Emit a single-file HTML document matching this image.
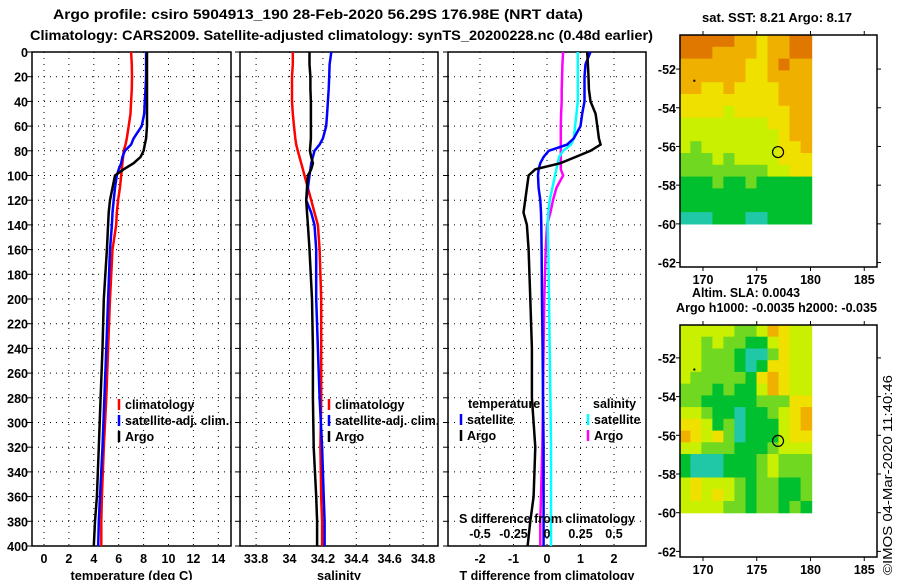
<!DOCTYPE html>
<html><head><meta charset="utf-8"><style>
body{margin:0;background:#fff;width:900px;height:580px;overflow:hidden}
svg{font-family:"Liberation Sans",sans-serif;font-weight:bold}
</style></head><body>
<svg id="s" width="900" height="580" xmlns="http://www.w3.org/2000/svg">
<text x="53" y="19" font-size="14" textLength="530" lengthAdjust="spacingAndGlyphs">Argo profile: csiro 5904913_190 28-Feb-2020 56.29S 176.98E (NRT data)</text>
<text x="30" y="40" font-size="14" textLength="623" lengthAdjust="spacingAndGlyphs">Climatology: CARS2009. Satellite-adjusted climatology: synTS_20200228.nc (0.48d earlier)</text>
<text x="702" y="22" font-size="12.5" textLength="150" lengthAdjust="spacingAndGlyphs">sat. SST: 8.21 Argo: 8.17</text>
<text x="692" y="297" font-size="12.5" textLength="108" lengthAdjust="spacingAndGlyphs">Altim. SLA: 0.0043</text>
<text x="676" y="312" font-size="12.5" textLength="201" lengthAdjust="spacingAndGlyphs">Argo h1000: -0.0035 h2000: -0.035</text>
<text transform="translate(892,575) rotate(-90)" font-size="12.5" font-weight="normal" textLength="200" lengthAdjust="spacingAndGlyphs">©IMOS 04-Mar-2020 11:40:46</text>
</svg>
<script>
const depths=[0,10,20,30,40,50,60,70,75,80,85,90,95,100,110,120,130,140,160,200,240,280,320,360,380,400];
const tClim=[7.0,7.05,7.07,7.05,7.0,6.95,6.8,6.65,6.55,6.4,6.35,6.3,6.25,6.2,6.1,5.95,5.85,5.8,5.5,5.3,5.15,5.0,4.8,4.65,4.6,4.6];
const tSat=[8.2,8.2,8.2,8.15,8.1,8.05,7.85,7.2,7.0,6.5,6.3,6.2,6.0,5.85,5.7,5.6,5.5,5.45,5.3,5.15,5.0,4.85,4.7,4.5,4.4,4.35];
const tArgo=[8.27,8.27,8.27,8.27,8.27,8.27,8.27,8.2,8.1,8.0,7.75,7.2,6.4,5.7,5.5,5.3,5.2,5.15,5.05,4.8,4.7,4.55,4.4,4.25,4.1,4.0];
const sClim=[34.02,34.02,34.015,34.015,34.015,34.02,34.027,34.035,34.04,34.05,34.06,34.07,34.08,34.09,34.11,34.13,34.15,34.17,34.18,34.19,34.19,34.19,34.185,34.19,34.195,34.195];
const sSat=[34.25,34.24,34.238,34.235,34.23,34.225,34.22,34.2,34.18,34.15,34.14,34.13,34.125,34.12,34.11,34.1,34.13,34.15,34.16,34.16,34.17,34.18,34.195,34.205,34.21,34.21];
const sArgo=[34.12,34.12,34.125,34.125,34.128,34.128,34.128,34.128,34.125,34.122,34.13,34.14,34.13,34.11,34.105,34.1,34.105,34.11,34.12,34.135,34.14,34.14,34.145,34.16,34.165,34.165];
const dSArgo=[0.12,0.115,0.113,0.11,0.11,0.105,0.103,0.103,0.103,0.103,0.103,0.103,0.103,0.12,0.07,0.045,0.025,0.0,-0.01,-0.02,-0.025,-0.03,-0.035,-0.045,-0.05,-0.05];
const dSSat=[0.23,0.23,0.23,0.23,0.23,0.22,0.21,0.2,0.18,0.12,0.09,0.08,0.07,0.06,0.04,0.02,0.01,0.005,0.01,0.015,0.02,0.025,0.03,0.03,0.03,0.03];
const dTSat=[1.3,1.15,1.12,1.12,1.12,1.05,1.0,0.8,0.6,0.05,-0.1,-0.2,-0.25,-0.27,-0.25,-0.2,-0.18,-0.17,-0.16,-0.15,-0.13,-0.12,-0.1,-0.1,-0.1,-0.1];
const dTArgo=[1.2,1.22,1.24,1.25,1.3,1.45,1.5,1.55,1.6,1.3,0.85,0.4,-0.35,-0.55,-0.6,-0.65,-0.7,-0.6,-0.55,-0.5,-0.45,-0.45,-0.35,-0.4,-0.5,-0.58];
const tTicks=[0,2,4,6,8,10,12,14];
const sTicks=[33.8,34,34.2,34.4,34.6,34.8];
const dTTicks=[-2,-1,0,1,2];
const dSTicks=[-0.5,-0.25,0,0.25,0.5];
const dSLabels=["-0.5","-0.25","0","0.25","0.5"];
const depthTicks=[0,20,40,60,80,100,120,140,160,180,200,220,240,260,280,300,320,340,360,380,400];
const lonTicks=[170,175,180,185];
const latTicks=[-52,-54,-56,-58,-60,-62];
const palette=["#20c8a8","#00c030","#70d820","#c8f000","#f0e000","#f0b000","#e07800"];
const sstGrid=[
[6,6,6,6,6,5,5,4,5,5,6,6],[6,6,6,5,5,5,5,4,5,5,6,6],[5,5,5,5,5,5,4,4,5,6,5,5],[5,5,5,5,5,5,4,4,5,5,5,5],
[5,5,4,4,5,4,4,4,4,5,5,5],[4,4,4,4,4,4,4,4,4,5,5,5],[4,4,4,4,3,4,4,4,4,4,5,5],[3,3,3,3,3,3,3,3,4,4,5,5],
[3,3,3,3,3,3,3,3,3,4,5,5],[3,2,3,3,3,3,3,3,3,4,4,5],[2,2,2,3,2,3,3,3,3,4,4,4],[2,2,2,2,2,2,2,2,3,3,4,4],
[1,1,1,2,1,1,2,1,1,1,1,1],[1,1,1,1,1,1,1,1,1,1,1,1],[1,1,1,1,1,1,1,1,1,1,1,1],[0,0,0,1,1,1,0,0,1,1,1,1]];
const slaGrid=[
[3,3,3,3,3,2,2,3,5,4,3,3],[3,3,2,3,2,2,1,1,3,4,3,3],[3,3,2,2,2,1,0,0,2,4,3,3],[3,3,2,2,2,1,0,1,4,4,3,3],
[3,2,2,2,2,2,1,4,5,4,3,3],[2,2,2,1,2,1,1,3,5,4,3,3],[2,2,1,1,1,1,1,2,2,2,4,4],[3,3,2,1,1,0,1,1,2,3,4,5],
[4,4,3,1,2,0,1,1,1,3,4,5],[5,4,3,4,2,0,1,1,1,3,4,4],[3,3,2,2,2,1,1,1,2,3,3,3],[1,0,0,0,1,1,1,2,3,2,2,2],
[1,0,0,0,1,1,1,2,3,2,2,2],[3,4,3,3,3,2,1,2,2,1,1,2],[3,4,3,4,3,2,1,2,2,1,1,2],[3,3,3,3,2,2,1,2,2,1,2,1]];
const argoLon=176.98, argoLat=-56.29;

const svg=document.getElementById('s');
const NS='http://www.w3.org/2000/svg';
function el(t,a,p){const e=document.createElementNS(NS,t);for(const k in a)e.setAttribute(k,a[k]);(p||svg).appendChild(e);return e;}
const Y=d=>52+d*1.235;
const TOP=52,BOT=546;
function panel(name,x0,x1,xs,ticks,labels,showDepth,xlabel,xlw){
  const g=el('g',{});
  
  
  depthTicks.forEach(d=>{ if(d>0&&d<400){const l=el('line',{x1:x0,x2:x1,y1:Y(d),y2:Y(d),stroke:'#000','stroke-dasharray':'1 5'},g);}
    const tk=el('line',{x1:x0-5,x2:x0,y1:Y(d),y2:Y(d),stroke:'#000'},g);
    
    if(showDepth){const t=el('text',{x:x0-4,y:Y(d)+5,'text-anchor':'end','font-size':12.5},g);t.textContent=d;}});
  ticks.forEach((v,i)=>{const x=xs(v);
    const l=el('line',{x1:x,x2:x,y1:TOP,y2:BOT,stroke:'#000','stroke-dasharray':'1 5'},g);
    const t=el('text',{x:x,y:563,'text-anchor':'middle','font-size':12.5},g);t.textContent=labels?labels[i]:v;});
  const r=el('rect',{x:x0,y:TOP,width:x1-x0,height:BOT-TOP,fill:'none',stroke:'#000','stroke-width':1.5},g);
  
  const xl=el('text',{x:(x0+x1)/2-xlw/2,y:580,'font-size':12.5,textLength:xlw,lengthAdjust:'spacingAndGlyphs'},g);xl.textContent=xlabel;
  
  return g;
}
function line(g,vals,xs,color,name){
  const pts=vals.map((v,i)=>xs(v).toFixed(1)+','+Y(depths[i]).toFixed(1)).join(' ');
  const p=el('polyline',{points:pts,fill:'none',stroke:color,'stroke-width':2.5},g);
  
}
function legend(g,x,y,color,text,name){
  const b=el('line',{x1:x,x2:x,y1:y-10,y2:y+1,stroke:color,'stroke-width':2.5},g);
  
  const t=el('text',{x:x+6,y:y,'font-size':12.5},g);t.textContent=text;
  
}
const xT=v=>44+v*12.45;
const g1=panel('temperature-panel',32,231,xT,tTicks,null,true,'temperature (deg C)',122);
line(g1,tClim,xT,'#f00','temperature-climatology-line');
line(g1,tSat,xT,'#00f','temperature-satellite-line');
line(g1,tArgo,xT,'#000','temperature-argo-line');
legend(g1,119,409,'#f00','climatology','legend-climatology');
legend(g1,119,425,'#00f','satellite-adj. clim.','legend-satellite');
legend(g1,119,441,'#000','Argo','legend-argo');
const xS=v=>289.5+(v-34)*167;
const g2=panel('salinity-panel',240,438,xS,sTicks,["33.8","34","34.2","34.4","34.6","34.8"],false,'salinity',44);
line(g2,sClim,xS,'#f00','salinity-climatology-line');
line(g2,sSat,xS,'#00f','salinity-satellite-line');
line(g2,sArgo,xS,'#000','salinity-argo-line');
legend(g2,329,409,'#f00','climatology','legend-s-climatology');
legend(g2,329,425,'#00f','satellite-adj. clim.','legend-s-satellite');
legend(g2,329,441,'#000','Argo','legend-s-argo');
const xD=v=>547+v*33.5;
const xDS=v=>547+v*134;
const g3=panel('difference-panel',448,646,xD,dTTicks,null,false,'T difference from climatology',175);
line(g3,dSArgo,xDS,'#f0f','s-diff-argo-line');
line(g3,dSSat,xDS,'#0ff','s-diff-satellite-line');
line(g3,dTSat,xD,'#00f','t-diff-satellite-line');
line(g3,dTArgo,xD,'#000','t-diff-argo-line');
let t=el('text',{x:468,y:408,'font-size':12.5},g3);t.textContent='temperature';
t=el('text',{x:593,y:408,'font-size':12.5},g3);t.textContent='salinity';
legend(g3,461,424,'#00f','satellite','legend-t-satellite');
legend(g3,461,440,'#000','Argo','legend-t-argo');
legend(g3,588,424,'#0ff','satellite','legend-s-sat');
legend(g3,588,440,'#f0f','Argo','legend-s-argo-diff');
t=el('text',{x:459,y:523,'font-size':12.5,textLength:176,lengthAdjust:'spacingAndGlyphs'},g3);t.textContent='S difference from climatology';
dSTicks.forEach((v,i)=>{const tt=el('text',{x:xDS(v),y:538,'text-anchor':'middle','font-size':12.5},g3);tt.textContent=dSLabels[i];});
function map(name,y0,y1,latTop,grid){
  const g=el('g',{});
  
  const x0=680,x1=877;
  const lonX=v=>703+(v-170)*10.75;
  const latY=v=>y0+(latTop-v)*19.35;
  const dx0=lonX(167.8), dx1=lonX(180.1), dy0=y0, dy1=latY(-60);
  const rows=grid.length, cols=grid[0].length;
  const cw=(dx1-dx0)/cols, ch=(dy1-dy0)/rows;
  grid.forEach((row,ri)=>row.forEach((v,ci)=>{
    const c=el('rect',{x:(dx0+ci*cw).toFixed(1),y:(dy0+ri*ch).toFixed(1),width:(cw+0.6).toFixed(1),height:(ch+0.6).toFixed(1),fill:palette[v]},g);
    }));
  const fr=el('rect',{x:x0,y:y0,width:x1-x0,height:y1-y0,fill:'none',stroke:'#000','stroke-width':1.5},g);
  
  lonTicks.forEach(v=>{const x=lonX(v);
    el('line',{x1:x,x2:x,y1:y1,y2:y1+4,stroke:'#000'},g);el('line',{x1:x,x2:x,y1:y0,y2:y0-4,stroke:'#000'},g);
    const tt=el('text',{x:x,y:y1+17,'text-anchor':'middle','font-size':12.5},g);tt.textContent=v;
    });
  latTicks.forEach(v=>{const y=latY(v);
    el('line',{x1:x0-4,x2:x0,y1:y,y2:y,stroke:'#000'},g);el('line',{x1:x1,x2:x1+4,y1:y,y2:y,stroke:'#000'},g);
    const tt=el('text',{x:x0-4,y:y+5,'text-anchor':'end','font-size':12.5},g);tt.textContent=v;
    });
  const c=el('circle',{cx:lonX(argoLon),cy:latY(argoLat),r:5.5,fill:'none',stroke:'#000','stroke-width':1.2},g);
  
  el('rect',{x:lonX(169.1),y:latY(-52.55),width:2,height:2,fill:'#000'},g);
}
map('sst-map',35,267,-50.24,sstGrid);
map('sla-map',325,557,-50.3,slaGrid);
</script>
</body></html>
